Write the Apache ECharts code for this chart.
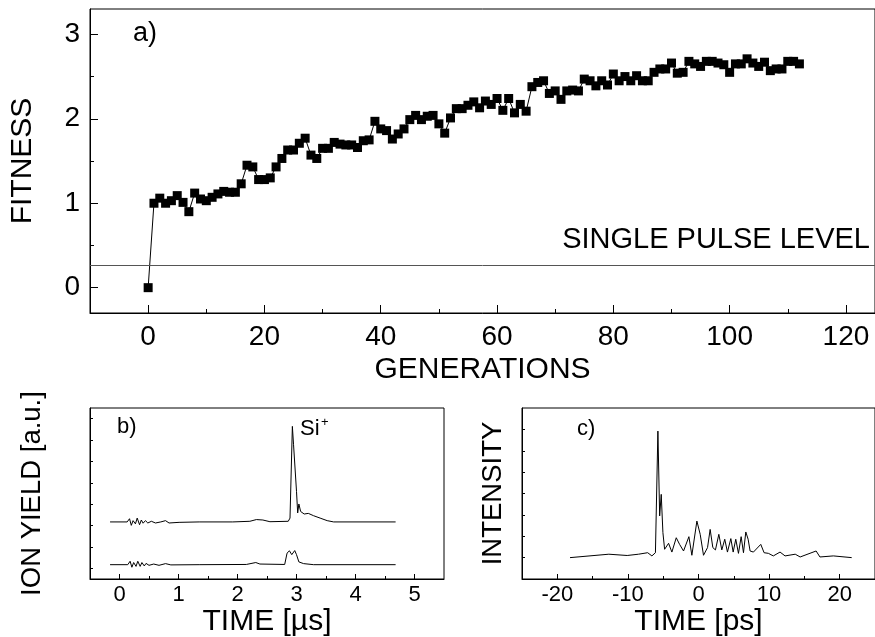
<!DOCTYPE html>
<html>
<head>
<meta charset="utf-8">
<script src="https://cdn.jsdelivr.net/npm/echarts@6/dist/echarts.min.js"></script>
<style>
  html, body { margin: 0; padding: 0; background: #fff; }
  #main { width: 875px; height: 637px; }
</style>
</head>
<body>
<div id="main"></div>
<script>
// a) fitness per generation (generation = index)
var fitness = [
  0.00, 1.00, 1.06, 1.00, 1.03, 1.09, 1.01, 0.90, 1.12, 1.05,
  1.03, 1.07, 1.11, 1.14, 1.13, 1.13, 1.23, 1.45, 1.43, 1.28,
  1.28, 1.30, 1.43, 1.53, 1.63, 1.63, 1.71, 1.77, 1.57, 1.53,
  1.65, 1.65, 1.72, 1.70, 1.69, 1.69, 1.66, 1.74, 1.75, 1.97,
  1.88, 1.86, 1.76, 1.82, 1.88, 1.99, 2.04, 1.99, 2.03, 2.04,
  1.94, 1.83, 2.01, 2.12, 2.12, 2.16, 2.20, 2.13, 2.21, 2.17,
  2.24, 2.10, 2.24, 2.07, 2.17, 2.09, 2.38, 2.43, 2.45, 2.30,
  2.33, 2.23, 2.33, 2.34, 2.33, 2.47, 2.45, 2.39, 2.45, 2.40,
  2.53, 2.45, 2.50, 2.45, 2.51, 2.45, 2.45, 2.55, 2.59, 2.59,
  2.66, 2.54, 2.55, 2.68, 2.65, 2.62, 2.68, 2.68, 2.66, 2.64,
  2.55, 2.65, 2.65, 2.71, 2.66, 2.62, 2.67, 2.57, 2.59, 2.59,
  2.68, 2.68, 2.65
];
var singlePulse = 0.27;

// b) ion yield, optimised (upper) and single pulse (lower)
var upperT = [-0.16, 0.13, 0.17, 0.20, 0.23, 0.27, 0.30, 0.34, 0.37, 0.40, 0.44, 0.48, 0.54, 0.61, 0.70, 0.78, 0.84, 1.01, 1.35, 1.92,
  2.21, 2.32, 2.43, 2.55, 2.86, 2.89, 2.93, 2.95, 2.97, 3.00, 3.02, 3.04, 3.07, 3.09, 3.13, 3.20, 3.29, 3.40, 3.52, 3.63, 4.68];
var upperY = [2.17, 2.17, 2.32, 2.01, 2.23, 2.08, 2.35, 2.04, 2.26, 2.11, 2.23, 2.12, 2.20, 2.12, 2.17, 2.23, 2.12, 2.15, 2.17, 2.17,
  2.20, 2.28, 2.26, 2.18, 2.20, 2.35, 6.64, 5.78, 5.86, 3.60, 2.59, 3.01, 2.66, 2.74, 2.54, 2.57, 2.46, 2.35, 2.23, 2.17, 2.17];
var lowerT = [-0.16, 0.14, 0.18, 0.21, 0.24, 0.28, 0.31, 0.35, 0.38, 0.42, 0.45, 0.50, 0.58, 0.67, 0.78, 0.87, 1.35, 2.15,
  2.31, 2.38, 2.80, 2.84, 2.88, 2.92, 2.97, 3.00, 3.04, 3.12, 3.29, 4.68];
var lowerY = [0.17, 0.17, 0.33, 0.05, 0.27, 0.09, 0.33, 0.09, 0.27, 0.11, 0.23, 0.14, 0.20, 0.14, 0.22, 0.16, 0.17, 0.18,
  0.27, 0.20, 0.18, 0.71, 0.82, 0.64, 0.83, 0.64, 0.30, 0.22, 0.17, 0.17];

// c) pulse intensity vs time
var pulseT = [-18.2, -12.7, -10.1, -8.5, -7.2, -6.6, -6.1, -5.75, -5.5, -5.28, -5.04, -4.8, -4.57, -4.24, -3.77, -3.15, -2.68, -2.12,
  -1.36, -0.94, -0.23, 0.0, 0.24, 0.71, 1.28, 1.65, 2.03, 2.4, 2.88, 3.3, 3.72, 4.1, 4.58, 4.91, 5.28, 5.66, 6.04, 6.37, 6.7, 7.03,
  7.31, 7.78, 8.82, 9.29, 9.9, 10.6, 11.55, 12.26, 13.7, 14.4, 16.66, 17.2, 19.1, 21.7];
var pulseI = [0.0, 0.16, 0.10, 0.16, 0.23, 0.08, 0.23, 5.92, 1.95, 2.96, 1.17, 0.39, 0.31, 0.67, 0.26, 0.93, 0.62, 0.31,
  0.98, 0.11, 1.71, 1.64, 1.09, 0.11, 0.47, 1.32, 0.47, 0.36, 1.09, 0.36, 0.86, 0.26, 0.89, 0.26, 0.86, 0.20, 0.98, 0.23, 1.20, 0.86,
  0.31, 0.26, 0.62, 0.23, 0.20, 0.08, 0.26, 0.08, 0.16, 0.03, 0.31, 0.03, 0.08, 0.0];

var genMajor = [0, 20, 40, 60, 80, 100, 120];
var genMinor = [10, 30, 50, 70, 90, 110];
var fitMajor = [0, 1, 2, 3];
var fitMinor = [0.5, 1.5, 2.5];
var usMajor = [0, 1, 2, 3, 4, 5];
var usMinor = [0.5, 1.5, 2.5, 3.5, 4.5];
var psMajor = [-20, -10, 0, 10, 20];
var psMinor = [-15, -5, 5, 15];

function pairs(xs, ys) {
  return xs.map(function (x, i) { return [x, ys[i]]; });
}

var FONT = '"Liberation Sans", Arial, sans-serif';
var black = '#000';

function majorAxis(grid, min, max, ticks, opts) {
  return Object.assign({
    type: 'value', gridIndex: grid, min: min, max: max,
    axisLine: { show: true, onZero: false, lineStyle: { color: black, width: 1 } },
    axisTick: { show: true, inside: true, length: 8, customValues: ticks, lineStyle: { color: black } },
    axisLabel: { show: true, customValues: ticks, color: black, fontFamily: FONT, fontSize: 28, margin: 10 },
    splitLine: { show: false },
    nameLocation: 'middle',
    nameTextStyle: { color: black, fontFamily: FONT, fontSize: 30 }
  }, opts);
}

function minorAxis(grid, min, max, ticks, pos, len) {
  return {
    type: 'value', gridIndex: grid, min: min, max: max, position: pos,
    axisLine: { show: false, onZero: false },
    axisTick: { show: true, inside: true, length: len, customValues: ticks, lineStyle: { color: black } },
    axisLabel: { show: false },
    splitLine: { show: false }
  };
}

var chart = echarts.init(document.getElementById('main'), null, { renderer: 'canvas' });

var option = {
  animation: false,
  backgroundColor: '#fff',
  grid: [
    { left: 90, top: 9, width: 785, height: 304, show: true, borderColor: black, borderWidth: 1, outerBoundsMode: 'none', containLabel: false },
    { left: 90, top: 408, width: 354, height: 171, show: true, borderColor: black, borderWidth: 1, outerBoundsMode: 'none', containLabel: false },
    { left: 522, top: 408, width: 353, height: 171, show: true, borderColor: black, borderWidth: 1, outerBoundsMode: 'none', containLabel: false }
  ],
  xAxis: [
    majorAxis(0, -10, 125, genMajor, { position: 'bottom', name: 'GENERATIONS', nameGap: 42 }),
    minorAxis(0, -10, 125, genMinor, 'bottom', 4),
    majorAxis(1, -0.5, 5.5, usMajor, {
      position: 'bottom', name: 'TIME [µs]', nameGap: 28,
      axisTick: { show: true, inside: true, length: 5, customValues: usMajor, lineStyle: { color: black } },
      axisLabel: { show: true, customValues: usMajor, color: black, fontFamily: FONT, fontSize: 22, margin: 5 }
    }),
    minorAxis(1, -0.5, 5.5, usMinor, 'bottom', 3),
    majorAxis(2, -25, 25, psMajor, {
      position: 'bottom', name: 'TIME [ps]', nameGap: 28,
      axisTick: { show: true, inside: true, length: 5, customValues: psMajor, lineStyle: { color: black } },
      axisLabel: { show: true, customValues: psMajor, color: black, fontFamily: FONT, fontSize: 22, margin: 5 }
    }),
    minorAxis(2, -25, 25, psMinor, 'bottom', 3)
  ],
  yAxis: [
    majorAxis(0, -0.3, 3.3, fitMajor, { position: 'left', name: 'FITNESS', nameGap: 52 }),
    minorAxis(0, -0.3, 3.3, fitMinor, 'left', 4),
    majorAxis(1, -0.5, 7.5, [0, 1, 2, 3, 4, 5, 6, 7], {
      position: 'left', name: 'ION YIELD [a.u.]', nameGap: 44,
      nameTextStyle: { color: black, fontFamily: FONT, fontSize: 27.5 },
      axisTick: { show: true, inside: true, length: 3, customValues: [0, 1, 2, 3, 4, 5, 6, 7], lineStyle: { color: black } },
      axisLabel: { show: false }
    }),
    majorAxis(2, -1, 7, [0, 1, 2, 3, 4, 5, 6], {
      position: 'left', name: 'INTENSITY', nameGap: 15,
      nameTextStyle: { color: black, fontFamily: FONT, fontSize: 27.5 },
      axisTick: { show: true, inside: true, length: 3, customValues: [0, 1, 2, 3, 4, 5, 6], lineStyle: { color: black } },
      axisLabel: { show: false }
    })
  ],
  series: [
    {
      type: 'line', xAxisIndex: 0, yAxisIndex: 0,
      data: fitness.map(function (v, i) { return [i, v]; }),
      symbol: 'rect', symbolSize: 9,
      itemStyle: { color: black },
      lineStyle: { color: black, width: 1 },
      markLine: {
        silent: true, symbol: 'none',
        lineStyle: { color: '#555', width: 1, type: 'solid' },
        label: {
          show: true, position: 'insideEndTop', formatter: 'SINGLE PULSE LEVEL',
          color: black, fontFamily: FONT, fontSize: 29, distance: [5, 10]
        },
        data: [{ yAxis: singlePulse }]
      }
    },
    {
      type: 'line', xAxisIndex: 2, yAxisIndex: 2, data: pairs(upperT, upperY),
      showSymbol: false, lineStyle: { color: black, width: 1 }
    },
    {
      type: 'line', xAxisIndex: 2, yAxisIndex: 2, data: pairs(lowerT, lowerY),
      showSymbol: false, lineStyle: { color: black, width: 1 }
    },
    {
      type: 'line', xAxisIndex: 4, yAxisIndex: 3, data: pairs(pulseT, pulseI),
      showSymbol: false, lineStyle: { color: black, width: 1 }
    }
  ],
  graphic: [
    { type: 'text', left: 133, top: 20, style: { text: 'a)', font: '27px ' + FONT, fill: black } },
    { type: 'text', left: 117, top: 416, style: { text: 'b)', font: '22px ' + FONT, fill: black } },
    { type: 'text', left: 577, top: 418, style: { text: 'c)', font: '22px ' + FONT, fill: black } },
    { type: 'text', left: 300, top: 418, style: { text: 'Si', font: '22px ' + FONT, fill: black } },
    { type: 'text', left: 321, top: 416, style: { text: '+', font: '13px ' + FONT, fill: black } }
  ]
};

chart.setOption(option);
</script>
</body>
</html>
